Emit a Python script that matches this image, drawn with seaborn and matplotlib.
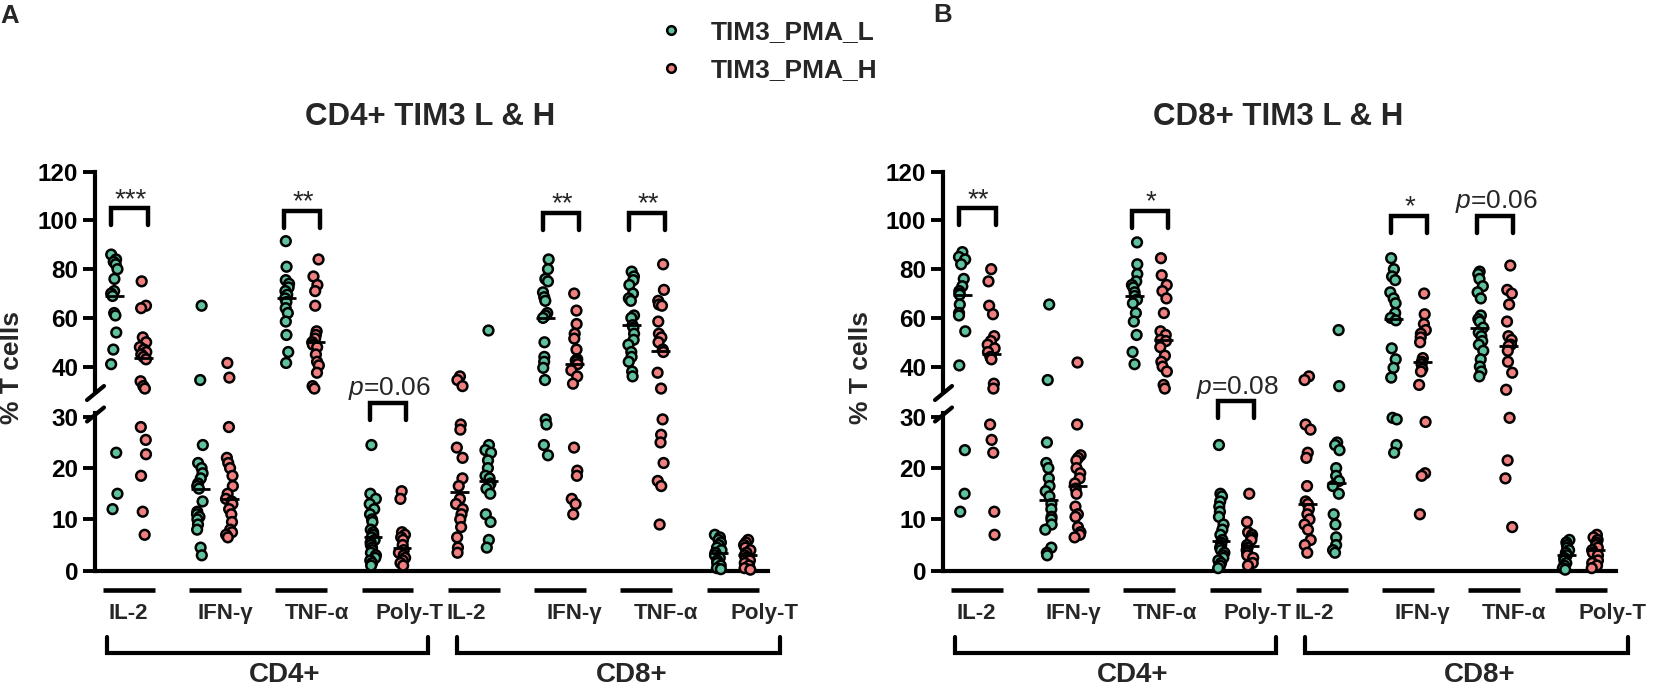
import numpy as np
import pandas as pd
import seaborn as sns
import matplotlib.pyplot as plt
from matplotlib.lines import Line2D

sns.set_theme(style="ticks")
plt.rcParams['font.family'] = ['Liberation Sans', 'DejaVu Sans']
plt.rcParams['mathtext.fontset'] = 'custom'
plt.rcParams['mathtext.it'] = 'Liberation Sans:italic'
plt.rcParams['mathtext.rm'] = 'Liberation Sans'

# ---- dati (panel A) ----
A_CD4_IL2_L = [86, 84, 83, 82, 80, 76, 71, 70, 69, 62, 61, 54, 47, 41, 23, 15, 12]
A_CD4_IL2_H = [75, 65, 64, 52, 50, 48, 47, 46, 45, 44, 43, 34, 32, 31, 28, 25.5, 22.7, 18.5, 11.5, 7]
A_CD4_IFNG_L = [65, 34.5, 24.5, 21, 20, 19, 18, 17, 16.5, 16, 13.5, 11.5, 11, 10.5, 10, 9, 8, 4.5, 3]
A_CD4_IFNG_H = [41.5, 35.5, 28, 22, 21, 20, 18.5, 16.5, 15, 14, 13.5, 13, 12, 11, 9.5, 8, 7.5, 7, 6.5]
A_CD4_TNFA_L = [91.5, 81, 75.5, 74, 72.5, 71, 69.5, 68, 66.5, 64, 62, 58.5, 53, 46, 41.5]
A_CD4_TNFA_H = [84, 77, 73.5, 71, 65, 54.5, 53, 51.5, 50, 49, 48, 45, 42, 40.5, 37.5, 32, 31]
A_CD4_POLY_L = [24.5, 15, 14, 13, 12, 11, 10, 9.5, 8, 7.5, 7, 6.5, 6, 5.5, 5, 4.5, 4, 3.5, 3, 2.5, 2, 1.5, 1]
A_CD4_POLY_H = [15.5, 14, 7.5, 7, 6.5, 6, 5, 4, 3.5, 3, 2.5, 2, 1.5, 1]
A_CD8_IL2_L = [55, 24.5, 23.5, 23, 21.5, 20, 18.5, 18, 17, 16.5, 16, 15, 11, 9.5, 6, 4.5]
A_CD8_IL2_H = [36, 34.5, 32, 28.5, 27.5, 24, 22, 18, 16.5, 14, 13, 12, 11, 10, 8.5, 6.5, 4.5, 3.5]
A_CD8_IFNG_L = [84, 80, 76, 75, 70.5, 68.5, 67, 62, 61, 60, 50, 44, 42, 39.5, 34.5, 29.5, 28.5, 24.5, 22.5]
A_CD8_IFNG_H = [70, 63, 57.5, 53.5, 51.5, 47, 43, 42.5, 42, 41, 38.5, 36, 33, 24, 19.5, 18.5, 14, 13, 11]
A_CD8_TNFA_L = [79, 77, 75.5, 73.5, 70, 68, 67, 61, 60, 57, 56, 53.5, 51, 49, 46, 44, 42, 38, 36]
A_CD8_TNFA_H = [82, 71.5, 67, 65.5, 65, 58.5, 53.5, 52, 50, 47, 46, 37.5, 31, 29.5, 26.5, 25, 21, 17.5, 16.5, 9]
A_CD8_POLY_L = [7, 6.5, 6, 5.5, 5, 4.5, 4, 3.5, 3, 2.5, 2, 1.5, 1, 0.5, 0.3]
A_CD8_POLY_H = [6, 5.5, 5, 4.5, 4, 3.5, 3, 2.5, 2, 1.5, 1, 0.5, 0.2]

# ---- panel B ----
B_CD4_IL2_L = [87, 85, 84, 82, 76, 73, 71, 70, 69.5, 65.5, 62, 61, 54.5, 40.5, 23.5, 15, 11.5]
B_CD4_IL2_H = [80, 75, 65, 61.5, 52.5, 50.5, 49, 47.5, 46, 44, 43, 33, 31, 28.5, 25.5, 23, 11.5, 7]
B_CD4_IFNG_L = [65.5, 34.5, 25, 21, 20, 18, 16.5, 15.5, 14.5, 13, 12, 10.5, 10, 9, 8, 4.5, 3.5, 3]
B_CD4_IFNG_H = [42, 28.5, 22.5, 22, 21.5, 20, 19, 18, 17, 16, 15, 12.5, 11, 10.5, 8.5, 7.5, 7, 6.5]
B_CD4_TNFA_L = [91, 82, 78, 75, 73.5, 72.5, 70.5, 69, 67.5, 66, 62, 58.5, 53, 46, 41]
B_CD4_TNFA_H = [84.5, 77.5, 73.5, 71, 68, 62, 54.5, 53, 51, 50.5, 48, 44.5, 42, 40, 38, 32.5, 31]
B_CD4_POLY_L = [24.5, 15, 14.5, 13.5, 12.5, 11.5, 10.5, 9, 8, 7, 6, 5.5, 5, 4.5, 4, 3.5, 3, 2.5, 2, 1.5, 1, 0.5]
B_CD4_POLY_H = [15, 9.5, 7.5, 7, 6.5, 6, 5, 4.5, 4, 3.5, 3, 2.5, 1.5, 1]
B_CD8_IL2_L = [55, 32, 25, 24.5, 23.5, 20, 18.5, 17.5, 16.5, 15, 11, 9, 6.5, 5, 4, 3.5]
B_CD8_IL2_H = [36, 34.5, 28.5, 27.5, 23, 22, 16.5, 13.5, 13, 12, 11, 10, 9, 8, 6, 5, 3.5]
B_CD8_IFNG_L = [84.5, 80, 77, 75.5, 70.5, 68, 66, 62, 60, 59, 47.5, 43, 39.5, 35.5, 29.8, 29.5, 24.5, 23]
B_CD8_IFNG_H = [70, 61.5, 57.5, 55, 53.5, 52, 50, 43.5, 42, 41, 39, 38, 32.5, 29, 19, 18.5, 11]
B_CD8_TNFA_L = [79, 78, 76, 73, 70.5, 68, 61, 59.5, 58.5, 56, 54, 52.5, 50.5, 49, 46.5, 43, 40, 38, 36]
B_CD8_TNFA_H = [81.5, 71.5, 70, 65.5, 58.5, 52.5, 51, 49, 48.5, 46.5, 42, 37.5, 30.5, 29.8, 21.5, 18, 8.5]
B_CD8_POLY_L = [6, 5.5, 5, 4.5, 4, 3.5, 3, 2.5, 2, 1.5, 1, 0.5, 0.2]
B_CD8_POLY_H = [7, 6.5, 6, 5.5, 5, 4.5, 4, 3.5, 3, 2, 1.5, 1, 0.5]

GROUP_LABELS = ["IL-2", "IFN-γ", "TNF-α", "Poly-T", "IL-2", "IFN-γ", "TNF-α", "Poly-T"]
LABEL_SHIFT = [0.0, 0.12, 0.18, 0.26, -0.09, 0.17, 0.23, 0.37]
LEFT_SERIES = ["L", "L", "L", "L", "H", "L", "L", "L"]   # nel gruppo CD8 IL-2 il rosso sta a sinistra
SERIES = {"L": "TIM3_PMA_L", "H": "TIM3_PMA_H"}
PALETTE = {"TIM3_PMA_L": "#5FC29C", "TIM3_PMA_H": "#F08080"}

# annotazioni di significativita'
A_SIG_GROUPS = [0, 2, 3, 5, 6]
A_SIG_TEXT = ["***", "**", "$p$=0.06", "**", "**"]
A_SIG_TOP = [105, 104, 32.7, 103, 103]
B_SIG_GROUPS = [0, 2, 3, 5, 6]
B_SIG_TEXT = ["**", "*", "$p$=0.08", "*", "$p$=0.06"]
B_SIG_TOP = [105, 104, 33, 102, 102]

W, H = 1654, 689
HALF_GAP = 0.168
BREAK = 30

np.random.seed(7)
fig = plt.figure(figsize=(W / 100, H / 100), dpi=100)


def px_axes(left, top, width, height):
    ax = fig.add_axes([left / W, 1 - (top + height) / H, width / W, height / H])
    ax.set_facecolor("none")
    return ax


def build_frame(columns):
    rows = []
    for g, (low, high) in enumerate(columns):
        for key, vals in (("L", low), ("H", high)):
            side = -1 if LEFT_SERIES[g] == key else 1
            for v in vals:
                rows.append({"group": g, "series": SERIES[key],
                             "pos": g + side * HALF_GAP, "value": v})
    return pd.DataFrame(rows)


def draw_panel(left, df, letter, title, sig_groups, sig_text, sig_top):
    ax_hi = px_axes(left, 171.7, 673, 219.3)
    ax_lo = px_axes(left, 412.7, 673, 158)

    for ax, part in ((ax_hi, df[df["value"] >= BREAK]), (ax_lo, df[df["value"] < BREAK])):
        sns.stripplot(data=part, x="pos", y="value", hue="series",
                      hue_order=list(SERIES.values()), palette=PALETTE,
                      native_scale=True, orient="x", jitter=0.12, size=7.0,
                      linewidth=1.8, edgecolor="black", legend=False, ax=ax,
                      clip_on=False, zorder=3)

    # mediane
    med = df.groupby("pos")["value"].median()
    for pos, m in med.items():
        ax = ax_hi if m >= BREAK else ax_lo
        ax.hlines(m, pos - 0.11, pos + 0.11, color="black", lw=2.0, zorder=4, clip_on=False)

    ax_hi.set_ylim(30, 120)
    ax_lo.set_ylim(0, 30.8)
    for ax in (ax_hi, ax_lo):
        ax.set_xlim(-0.39, 7.41)
        ax.set_xticks([])
        ax.set_xlabel("")
        ax.set_ylabel("")
        sns.despine(ax=ax, bottom=(ax is ax_hi))
        ax.spines["left"].set_linewidth(3)
        ax.spines["left"].set_color("black")
        ax.tick_params(axis="y", length=9, width=2.8, pad=3, colors="black")
    ax_lo.spines["bottom"].set_linewidth(3)
    ax_lo.spines["bottom"].set_color("black")
    ax_hi.set_yticks([40, 60, 80, 100, 120], labels=["40", "60", "80", "100", "120"],
                     fontsize=17.5, fontweight="bold")
    ax_lo.set_yticks([0, 10, 20, 30], labels=["0", "10", "20", "30"],
                     fontsize=17.5, fontweight="bold")

    # segni di interruzione dell'asse
    for y0 in (400, 421.5):
        fig.add_artist(Line2D([(left - 8) / W, (left + 9) / W],
                              [1 - y0 / H, 1 - (y0 - 14) / H],
                              transform=fig.transFigure, color="black", lw=3))

    # etichette di categoria e sottolineature
    for g, lab in enumerate(GROUP_LABELS):
        ax_lo.hlines(-3.76, g - 0.3, g + 0.3, color="black", lw=3.3, clip_on=False)
        ax_lo.text(g + LABEL_SHIFT[g], -8.25, lab, ha="center", va="center",
                   fontsize=16, fontweight="bold", clip_on=False)

    # parentesi CD4+ / CD8+
    for x0, x1, name, xc in ((-0.25, 3.47, "CD4+", 1.81), (3.81, 7.55, "CD8+", 5.83)):
        ax_lo.plot([x0, x0, x1, x1], [-12.9, -16.0, -16.0, -12.9], color="black",
                   lw=3, clip_on=False, solid_joinstyle="miter")
        ax_lo.text(xc, -20.3, name, ha="center", va="center", fontsize=20,
                   fontweight="bold", clip_on=False)

    # significativita'
    for g, txt, top in zip(sig_groups, sig_text, sig_top):
        hi = top > BREAK + 10
        ax = ax_hi if hi else ax_lo
        leg = 7 if hi else 3.3
        x0, x1 = g - 0.2, g + 0.22
        ax.plot([x0, x0, x1, x1], [top - leg, top, top, top - leg], color="black",
                lw=3.2, clip_on=False, solid_joinstyle="miter")
        if "p" in txt:
            gap = 3.3 if hi else 1.5
            ax.text(g + 0.02, top + gap, txt, ha="center", va="baseline",
                    fontsize=19, clip_on=False)
        else:
            ax.text(g + 0.02, top + 0.6, txt, ha="center", va="baseline",
                    fontsize=20, clip_on=False)

    fig.text((left - 82.5) / W, 1 - 367 / H, "% T cells", rotation=90, ha="center",
             va="center", fontsize=19, fontweight="bold")
    fig.text((left + 335) / W, 1 - 117 / H, title, ha="center", va="center",
             fontsize=22.5, fontweight="bold")
    return ax_hi, ax_lo


df_a = build_frame([(A_CD4_IL2_L, A_CD4_IL2_H), (A_CD4_IFNG_L, A_CD4_IFNG_H),
                    (A_CD4_TNFA_L, A_CD4_TNFA_H), (A_CD4_POLY_L, A_CD4_POLY_H),
                    (A_CD8_IL2_L, A_CD8_IL2_H), (A_CD8_IFNG_L, A_CD8_IFNG_H),
                    (A_CD8_TNFA_L, A_CD8_TNFA_H), (A_CD8_POLY_L, A_CD8_POLY_H)])
df_b = build_frame([(B_CD4_IL2_L, B_CD4_IL2_H), (B_CD4_IFNG_L, B_CD4_IFNG_H),
                    (B_CD4_TNFA_L, B_CD4_TNFA_H), (B_CD4_POLY_L, B_CD4_POLY_H),
                    (B_CD8_IL2_L, B_CD8_IL2_H), (B_CD8_IFNG_L, B_CD8_IFNG_H),
                    (B_CD8_TNFA_L, B_CD8_TNFA_H), (B_CD8_POLY_L, B_CD8_POLY_H)])

draw_panel(95, df_a, "A", "CD4+ TIM3 L & H", A_SIG_GROUPS, A_SIG_TEXT, A_SIG_TOP)
draw_panel(943, df_b, "B", "CD8+ TIM3 L & H", B_SIG_GROUPS, B_SIG_TEXT, B_SIG_TOP)

fig.text(0 / W, 1 - 16 / H, "A", ha="left", va="center", fontsize=18.5, fontweight="bold")
fig.text(933 / W, 1 - 15 / H, "B", ha="left", va="center", fontsize=18.5, fontweight="bold")

handles = [Line2D([], [], ls="none", marker="o", markersize=6.2, markeredgewidth=1.8,
                  markeredgecolor="black", markerfacecolor=PALETTE[s]) for s in SERIES.values()]
fig.legend(handles, list(SERIES.values()), loc="upper left",
           bbox_to_anchor=(658 / W, 1 - 20 / H), frameon=False,
           prop={"weight": "bold", "size": 19}, handlelength=1.0, handletextpad=1.0,
           labelspacing=0.55, borderpad=0, borderaxespad=0)

fig.savefig("out.png", dpi=100)
